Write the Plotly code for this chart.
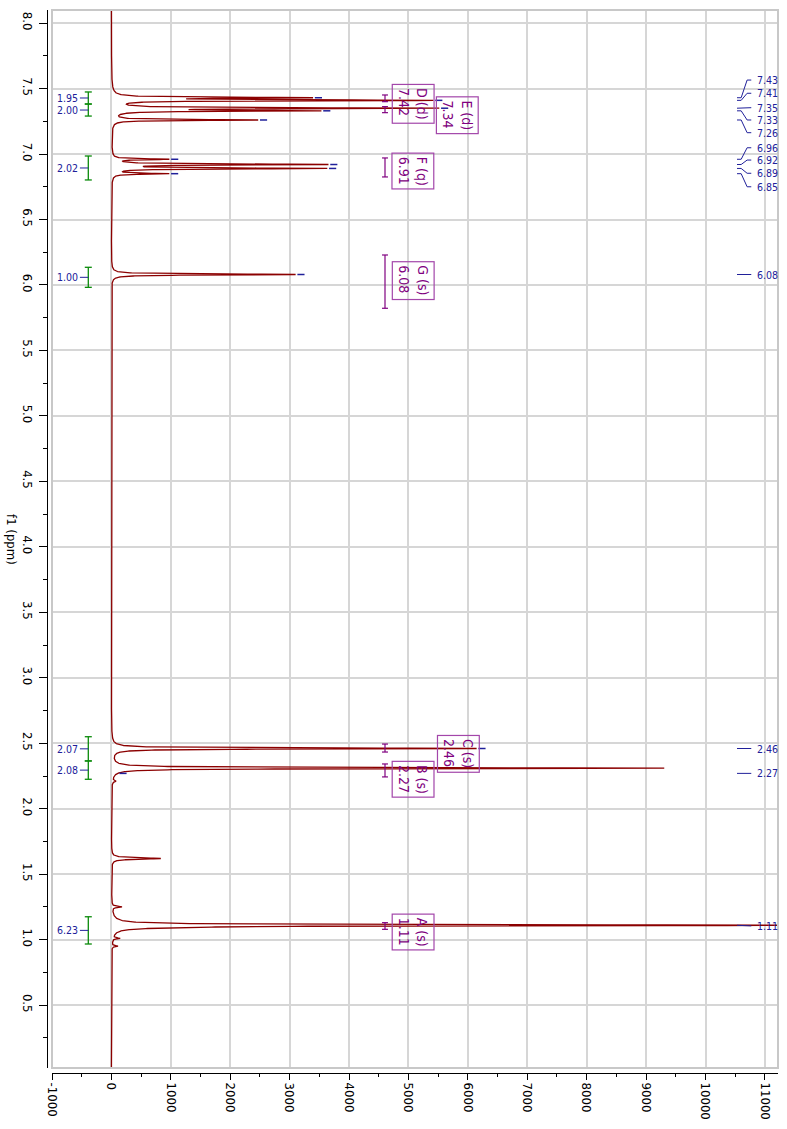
import numpy as np
import plotly.graph_objects as go

# ---------------- data ----------------
# spectrum lines: chemical shift (ppm), peak amplitude (intensity), half width (ppm)
peak_ppm = [7.43, 7.41, 7.35, 7.33, 7.26, 6.96, 6.92, 6.89, 6.85, 6.08,
            2.46, 2.31, 2.21, 1.62, 1.25, 1.11, 1.095, 1.01, 0.95]
peak_height = [3150, 5250, 5340, 3280, 2440, 920, 3570, 3550, 920, 3100,
               6140, 9300, 60, 830, 165, 12500, 600, 120, 100]
peak_hwhm = [0.0042, 0.0042, 0.0042, 0.0042, 0.0042, 0.0042, 0.0042, 0.0042, 0.0042, 0.0042,
             0.0042, 0.0042, 0.006, 0.006, 0.005, 0.0042, 0.008, 0.004, 0.004]

# peak picking (right-hand labels)
pick_ppm = [7.43, 7.41, 7.35, 7.33, 7.26, 6.96, 6.92, 6.89, 6.85, 6.08, 2.46, 2.27, 1.11]
pick_text = ["7.43", "7.41", "7.35", "7.33", "7.26", "6.96", "6.92", "6.89", "6.85",
             "6.08", "2.46", "2.27", "1.11"]
pick_label_ppm = [7.565, 7.464, 7.354, 7.260, 7.163, 7.048, 6.954, 6.853, 6.750,
                  6.08, 2.46, 2.27, 1.105]

# integrals
integral_from = [7.474, 7.382, 6.985, 6.135, 2.550, 2.365, 1.175]
integral_to = [7.382, 7.290, 6.802, 5.982, 2.365, 2.225, 0.967]
integral_value = ["1.95", "2.00", "2.02", "1.00", "2.07", "2.08", "6.23"]

# multiplets
mult_name = ["D (d)", "E (d)", "F (q)", "G (s)", "C (s)", "B (s)", "A (s)"]
mult_shift = ["7.42", "7.34", "6.91", "6.08", "2.46", "2.27", "1.11"]
mult_from = [7.451, 7.362, 6.970, 6.229, 2.494, 2.342, 1.130]
mult_to = [7.400, 7.316, 6.825, 5.822, 2.433, 2.243, 1.079]
mult_box_x = [5075, 5830, 5075, 5073, 5834, 5075, 5077]
mult_box_ppm = [7.384, 7.298, 6.867, 6.031, 2.419, 2.222, 1.062]

x_ticks = list(range(-1000, 11001, 1000))
y_ticks = [0.5 * k for k in range(1, 17)]

# ---------------- styling ----------------
FONT = "DejaVu Sans Condensed, DejaVu Sans, Liberation Sans, sans-serif"
RED = "#8b0000"
NAVY = "#20209a"
GREEN = "#0a8a0a"
PURPLE = "#800080"
BOXC = "#a346aa"
GRID = "#d6d6d6"

X_RANGE = [-1000, 11220]
Y_RANGE = [0.02, 8.10]


def spectrum(ppm):
    s = np.zeros_like(ppm, dtype=float)
    for p, h, w in zip(peak_ppm, peak_height, peak_hwhm):
        s += h * w * w / ((ppm - p) ** 2 + w * w)
    return s


ppm_axis = np.union1d(np.arange(0.0, 8.2, 0.0005), np.array(peak_ppm))
inten = spectrum(ppm_axis)

fig = go.Figure()

fig.add_trace(go.Scatter(x=inten, y=ppm_axis, mode="lines",
                         line=dict(color=RED, width=1.3), hoverinfo="skip",
                         showlegend=False))

# peak-top dashes
pick_val = spectrum(np.array(pick_ppm))
dx, dy = [], []
for p, v in zip(pick_ppm, pick_val):
    dx += [v + 30, v + 150, None]
    dy += [p, p, None]
fig.add_trace(go.Scatter(x=dx, y=dy, mode="lines", line=dict(color=NAVY, width=1.5),
                         hoverinfo="skip", showlegend=False, cliponaxis=True))

# right-hand peak label connectors
stub = [10530, 10600, 10700, 10770]
cx, cy = [], []
for p, lp in zip(pick_ppm, pick_label_ppm):
    cx += [stub[0], stub[1], stub[2], stub[3], None]
    cy += [p, p, lp, lp, None]
fig.add_trace(go.Scatter(x=cx, y=cy, mode="lines", line=dict(color=NAVY, width=1),
                         hoverinfo="skip", showlegend=False))
for lp, t in zip(pick_label_ppm, pick_text):
    fig.add_annotation(x=10830, y=lp, text=t, showarrow=False, xanchor="left",
                       yanchor="middle", font=dict(family=FONT, size=10.5, color=NAVY))

# integrals
IX, ICAP, ILAB = -389, 59, -530
gx, gy, nx, ny = [], [], [], []
for a, b, v in zip(integral_from, integral_to, integral_value):
    gx += [IX, IX, None, IX - ICAP, IX + ICAP, None, IX - ICAP, IX + ICAP, None]
    gy += [a, b, None, a, a, None, b, b, None]
    m = (a + b) / 2
    nx += [ILAB, IX, None]
    ny += [m, m, None]
    fig.add_annotation(x=ILAB, y=m, text=v, showarrow=False, xanchor="right",
                       yanchor="middle", font=dict(family=FONT, size=10.5, color=NAVY))
fig.add_trace(go.Scatter(x=gx, y=gy, mode="lines", line=dict(color=GREEN, width=1.3),
                         hoverinfo="skip", showlegend=False))
fig.add_trace(go.Scatter(x=nx, y=ny, mode="lines", line=dict(color=NAVY, width=1),
                         hoverinfo="skip", showlegend=False))

# multiplet ranges and boxes
MX, MCAP = 4605, 50
mx, my = [], []
for a, b in zip(mult_from, mult_to):
    mx += [MX, MX, None, MX - MCAP, MX + MCAP, None, MX - MCAP, MX + MCAP, None]
    my += [a, b, None, a, a, None, b, b, None]
fig.add_trace(go.Scatter(x=mx, y=my, mode="lines", line=dict(color=PURPLE, width=1.2),
                         hoverinfo="skip", showlegend=False))
for n, s, bx, by in zip(mult_name, mult_shift, mult_box_x, mult_box_ppm):
    fig.add_annotation(x=bx, y=by, text=n + "<br>" + s, showarrow=False, textangle=90,
                       align="left", xanchor="center", yanchor="middle",
                       bordercolor=BOXC, borderwidth=1.2, borderpad=3,
                       font=dict(family=FONT, size=14, color=PURPLE))

# axis title
fig.add_annotation(xref="paper", yref="paper", x=-0.048, y=0.5014, text="f1 (ppm)",
                   showarrow=False, textangle=90, xanchor="center", yanchor="middle",
                   font=dict(family=FONT, size=13, color="#000000"))

# plot frame
fig.add_shape(type="rect", xref="x domain", yref="y domain", x0=0, x1=1, y0=0, y1=1,
              line=dict(color="#c8c8c8", width=2), layer="above")

W, H = 787, 1129
L, R, T, B = 47, 9, 10, 56
pw, ph = W - L - R, H - T - B

fig.update_layout(
    width=W, height=H,
    margin=dict(l=L, r=R, t=T, b=B, autoexpand=False),
    paper_bgcolor="white", plot_bgcolor="white",
    showlegend=False,
    font=dict(family=FONT, size=13, color="#000000"),
    xaxis=dict(range=X_RANGE, domain=[5 / pw, 1], anchor="free", position=0,
               automargin=False,
               tickvals=x_ticks, ticktext=[str(v) for v in x_ticks], tickangle=90,
               ticks="outside", ticklen=6, tickcolor="#000", showline=True,
               linecolor="#000", linewidth=1, showgrid=True, gridcolor=GRID,
               gridwidth=1.5, zeroline=False,
               minor=dict(dtick=500, tick0=-1000, ticks="outside", ticklen=3,
                          tickcolor="#000", showgrid=False),
               tickfont=dict(family=FONT, size=13)),
    yaxis=dict(range=Y_RANGE, domain=[5 / ph, 1], anchor="free", position=0,
               automargin=False,
               tickvals=y_ticks, ticktext=["%.1f" % v for v in y_ticks], tickangle=90,
               ticks="outside", ticklen=8, tickcolor="#000", showline=True,
               linecolor="#000", linewidth=1, showgrid=True, gridcolor=GRID,
               gridwidth=1.5, zeroline=False,
               minor=dict(dtick=0.25, tick0=0, ticks="outside", ticklen=4,
                          tickcolor="#000", showgrid=False),
               tickfont=dict(family=FONT, size=13)),
)

fig.write_html("out.html", config={"displayModeBar": False},
               post_script="document.body.style.margin='0px';document.body.style.padding='0px';")
